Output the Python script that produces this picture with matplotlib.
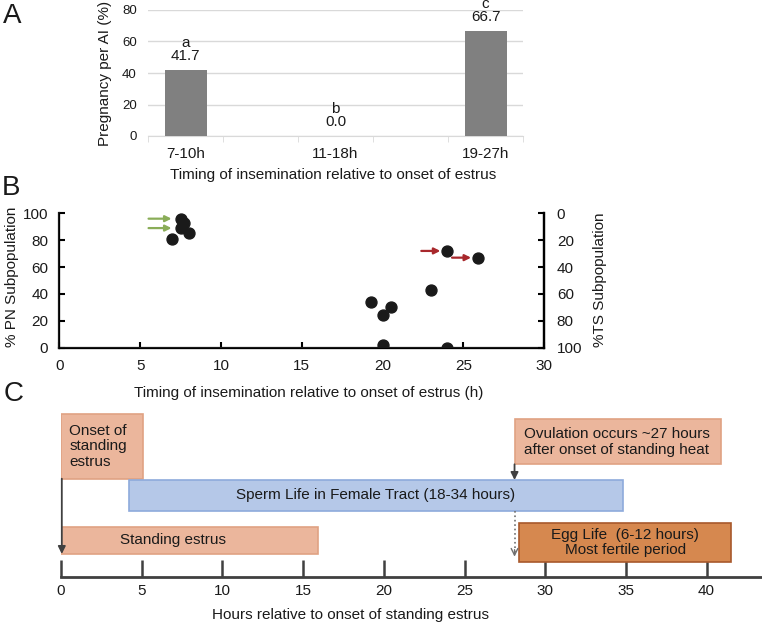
import numpy as np
import matplotlib.pyplot as plt

plt.rcParams['font.family'] = ['Liberation Sans', 'DejaVu Sans']

# Panel A: pregnancy per AI by timing group
timing_groups = ['7-10h', '11-18h', '19-27h']
pregnancy_rate = [41.7, 0.0, 66.7]
sig_letters = ['a', 'b', 'c']

# Panel B: PN / TS subpopulation vs insemination time
insem_hours = [7.5, 7.7, 7.5, 8.0, 7.0, 24.0, 25.9, 23.0, 19.3, 20.5, 20.0, 20.0, 24.0]
pn_percent = [96, 93, 89, 85, 81, 72, 67, 43, 34, 30, 24, 2, 0]
green_marked = [0, 2]
red_marked = [5, 6]

# Panel C: timeline boxes (hours)
box_labels = ['Onset of\nstanding\nestrus',
              'Ovulation occurs ~27 hours\nafter onset of standing heat',
              'Sperm Life in Female Tract (18-34 hours)',
              'Standing estrus',
              'Egg Life  (6-12 hours)\nMost fertile period']
box_start = [0, 28.1, 4.2, 0, 28.4]
box_end = [5.05, 40.9, 34.8, 15.9, 41.5]
onset_hour = 0
ovulation_hour = 28.1
hour_ticks = [0, 5, 10, 15, 20, 25, 30, 35, 40]

W, H = 762, 624
fig = plt.figure(figsize=(W / 100, H / 100), dpi=100)


def fx(px):
    return px / W


def fy(py):
    return 1 - py / H


txt = '#1a1a1a'
fs = 11

# ---------------- Panel A ----------------
axA = fig.add_axes([fx(148), fy(136), 375 / W, 126 / H])
pos = np.arange(len(timing_groups)) * 2
axA.bar(pos, pregnancy_rate, width=0.56, color='#808080', zorder=3)
axA.set_xlim(-0.5, 4.5)
axA.set_ylim(0, 80)
axA.set_yticks([0, 20, 40, 60, 80])
axA.grid(axis='y', color='#d9d9d9', lw=1, zorder=0)
for s in ['top', 'right', 'left']:
    axA.spines[s].set_visible(False)
axA.spines['bottom'].set_color('#d9d9d9')
axA.set_xticks(pos)
axA.set_xticklabels(timing_groups, fontsize=fs, color=txt)
axA.set_xticks(np.arange(-0.5, 5, 1), minor=True)
axA.tick_params(axis='x', which='major', length=0, pad=8)
axA.tick_params(axis='x', which='minor', length=4, color='#d9d9d9')
axA.tick_params(axis='y', length=0, pad=8, labelsize=9.5, labelcolor=txt)
for p, v, l in zip(pos, pregnancy_rate, sig_letters):
    axA.annotate(f'{v:.1f}', (p, v), xytext=(0, 14), textcoords='offset pixels',
                 ha='center', va='center', fontsize=fs, color=txt)
    axA.annotate(l, (p, v), xytext=(0, 23), textcoords='offset pixels',
                 ha='center', va='baseline', fontsize=fs, color=txt)
fig.text(fx(105), fy(73), 'Pregnancy per AI (%)', rotation=90, ha='center',
         va='center', fontsize=fs, color=txt)
fig.text(fx(333), fy(175), 'Timing of insemination relative to onset of estrus',
         ha='center', va='center', fontsize=fs, color=txt)

# ---------------- Panel B ----------------
axB = fig.add_axes([fx(59.3), fy(347.7), 485 / W, 134.4 / H])
axB.scatter(insem_hours, pn_percent, s=62, color='#1a1a1a', zorder=3)
axB.set_xlim(0, 30)
axB.set_ylim(0, 100)
axB.set_xticks([0, 5, 10, 15, 20, 25, 30])
axB.set_yticks([0, 20, 40, 60, 80, 100])
axB.spines['top'].set_visible(False)
for s in ['left', 'bottom', 'right']:
    axB.spines[s].set_linewidth(1.6)
    axB.spines[s].set_color('#1a1a1a')
axB.tick_params(direction='in', length=4, width=1.5, labelsize=fs,
                labelcolor=txt, pad=8)
axB2 = axB.twinx()
axB2.set_ylim(100, 0)
axB2.set_yticks([0, 20, 40, 60, 80, 100])
axB2.spines['top'].set_visible(False)
axB2.spines['right'].set_linewidth(1.6)
axB2.tick_params(direction='in', length=4, width=1.5, labelsize=fs,
                 labelcolor=txt, pad=9)
for i in green_marked:
    axB.annotate('', xy=(insem_hours[i], pn_percent[i]), xytext=(-32, 0),
                 textcoords='offset pixels',
                 arrowprops=dict(arrowstyle='-|>', color='#8aad58', lw=1.6,
                                 shrinkA=0, shrinkB=6.5, mutation_scale=9))
for i in red_marked:
    axB.annotate('', xy=(insem_hours[i], pn_percent[i]), xytext=(-26, 0),
                 textcoords='offset pixels',
                 arrowprops=dict(arrowstyle='-|>', color='#a8282c', lw=1.6,
                                 shrinkA=0, shrinkB=5, mutation_scale=9))
fig.text(fx(12), fy(277), '% PN Subpopulation', rotation=90, ha='center',
         va='center', fontsize=fs, color=txt)
fig.text(fx(600), fy(280), '%TS Subpopulation', rotation=90, ha='center',
         va='center', fontsize=fs, color=txt)
fig.text(fx(309), fy(393), 'Timing of insemination relative to onset of estrus (h)',
         ha='center', va='center', fontsize=fs, color=txt)

# ---------------- Panel C ----------------
axC = fig.add_axes([fx(61), fy(576.7), 700 / W, (576.7 - 405) / H])
axC.set_xlim(0, 700 / 16.14)
axC.set_ylim(0, 576.7 - 405)
row_bottom = [98, 112.4, 66, 22.7, 15]
row_height = [64.7, 45, 30.7, 27.3, 38.4]
face = ['#ebb69c', '#ebb69c', '#b5c8e8', '#ebb69c', '#d6884f']
edge = ['#e0a283', '#e0a283', '#8eaadb', '#e0a283', '#a8592c']
text_x = [0.5, 28.7, None, 6.96, None]
for k in range(len(box_labels)):
    axC.barh(row_bottom[k], box_end[k] - box_start[k], left=box_start[k],
             height=row_height[k], align='edge', color=face[k],
             edgecolor=edge[k], lw=1.2, zorder=2)
    yc = row_bottom[k] + row_height[k] / 2
    if text_x[k] is None:
        axC.text((box_start[k] + box_end[k]) / 2, yc, box_labels[k], ha='center',
                 va='center', fontsize=fs, color=txt, linespacing=1.15, zorder=4)
    else:
        ha = 'left' if k < 2 else 'center'
        axC.text(text_x[k], yc, box_labels[k], ha=ha, va='center', fontsize=fs,
                 color=txt, linespacing=1.15, zorder=4)
axC.annotate('', xy=(onset_hour + 0.05, 22.7), xytext=(onset_hour + 0.05, 98),
             arrowprops=dict(arrowstyle='-|>', color='#404040', lw=1.3,
                             shrinkA=0, shrinkB=0, mutation_scale=11), zorder=5)
axC.annotate('', xy=(ovulation_hour, 96.7), xytext=(ovulation_hour, 112.4),
             arrowprops=dict(arrowstyle='-|>', color='#404040', lw=1.3,
                             shrinkA=0, shrinkB=0, mutation_scale=11), zorder=5)
axC.plot([ovulation_hour, ovulation_hour], [66, 24], ls=':', color='#707070',
         lw=1.2, zorder=5)
axC.annotate('', xy=(ovulation_hour, 20), xytext=(ovulation_hour, 27),
             arrowprops=dict(arrowstyle='->', color='#707070', lw=1.0,
                             shrinkA=0, shrinkB=0, mutation_scale=12), zorder=5)
for s in ['top', 'left', 'right']:
    axC.spines[s].set_visible(False)
axC.spines['bottom'].set_color('#404040')
axC.spines['bottom'].set_linewidth(2)
axC.set_yticks([])
axC.set_xticks(hour_ticks)
axC.tick_params(axis='x', direction='in', length=12, width=1.8, color='#404040',
                labelsize=fs, labelcolor=txt, pad=5)
fig.text(fx(350.5), fy(615), 'Hours relative to onset of standing estrus',
         ha='center', va='center', fontsize=fs, color=txt)

# panel letters
fig.text(fx(3), fy(16), 'A', fontsize=20, va='center', ha='left', color=txt)
fig.text(fx(2), fy(188), 'B', fontsize=20, va='center', ha='left', color=txt)
fig.text(fx(4), fy(394), 'C', fontsize=20, va='center', ha='left', color=txt)

fig.savefig('out.png', dpi=100)
